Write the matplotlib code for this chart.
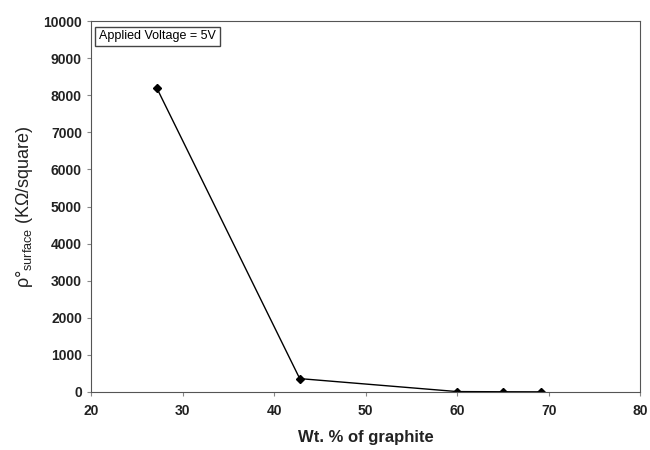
import matplotlib.pyplot as plt

plt.rcParams['font.family'] = ['Liberation Sans', 'DejaVu Sans']
plt.rcParams['mathtext.fontset'] = 'custom'
plt.rcParams['mathtext.rm'] = 'Liberation Sans'

graphite = [27.2, 42.8, 60, 65, 69.2]
resistivity = [8190, 360, 10, 5, 3]

fig = plt.figure(figsize=(6.5, 4.5), dpi=100)
ax = fig.add_axes([0.14, 0.129, 0.845, 0.824])

ax.plot(graphite, resistivity, color='black', linewidth=1, marker='D', markersize=4)

ax.set_xlim(20, 80)
ax.set_ylim(0, 10000)
ax.set_xticks(range(20, 81, 10))
ax.set_yticks(range(0, 10001, 1000))
ax.tick_params(labelsize=10, length=3, color='#888888', labelcolor='#222222')
ax.tick_params(axis='x', pad=6)
for lab in ax.get_xticklabels() + ax.get_yticklabels():
    lab.set_fontweight('bold')
for s in ax.spines.values():
    s.set_color('#555555')

ax.set_xlabel('Wt. % of graphite', fontsize=12, fontweight='bold', labelpad=8, color='#222222')
ax.set_ylabel(r'$\mathrm{\rho}$°$_{\mathrm{surface}}$ (KΩ/square)', fontsize=13, labelpad=6, color='#222222')

ax.text(0.015, 0.975, 'Applied Voltage = 5V', transform=ax.transAxes, fontsize=9,
        va='top', ha='left',
        bbox=dict(boxstyle='square,pad=0.3', facecolor='white', edgecolor='#444444', linewidth=1))

fig.savefig('out.png', dpi=100)
